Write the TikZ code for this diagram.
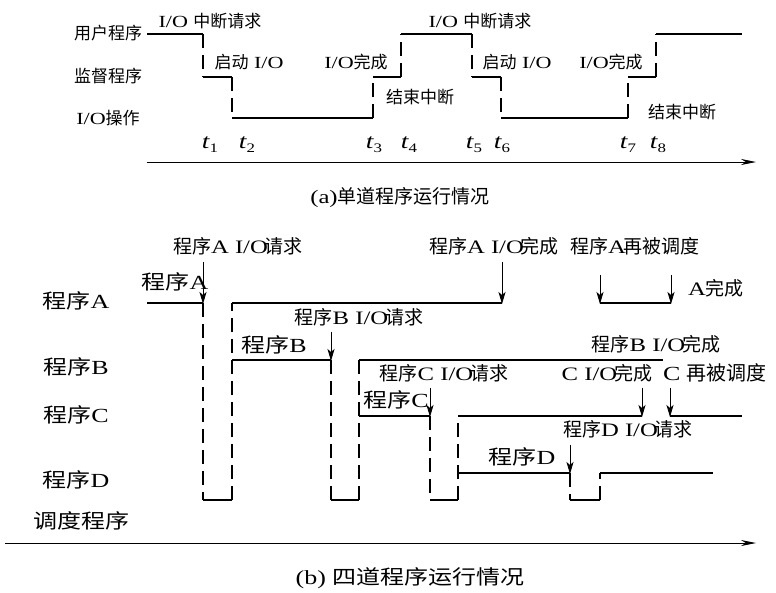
\documentclass[tikz,border=0pt]{standalone}
\usepackage{fontspec}
\usetikzlibrary{arrows.meta}
\newfontfamily\zh{Noto Sans CJK SC}
\newfontfamily\zhw[FakeStretch=1.2]{Noto Sans CJK SC}
\newfontfamily\la[FakeStretch=1.3]{Liberation Serif}
\newcommand\tv[1]{{\la\itshape t}\raisebox{-4pt}{\fontsize{13}{13}\selectfont\la #1}}
\tikzset{
  run/.style={line width=1.7pt},
  wait/.style={line width=1.7pt, dash pattern=on 14pt off 7pt},
  evt/.style={line width=0.9pt, -{Stealth[length=12pt,width=7pt,inset=3pt]}},
  axis/.style={line width=0.9pt, -{Stealth[length=15pt,width=6pt]}},
  lbA/.style={font=\fontsize{17}{20}\selectfont, inner sep=0pt},
  lbB/.style={font=\fontsize{19}{22}\selectfont, inner sep=0pt},
  lbR/.style={font=\fontsize{20}{23}\selectfont, inner sep=0pt},
  tl/.style={font=\fontsize{21}{24}\selectfont, inner sep=0pt},
}
\begin{document}
\begin{tikzpicture}[x=1pt,y=-1pt]
\useasboundingbox (0,0) rectangle (776,592);
% ---------------- (a) ----------------
\node[lbA] (ua) at (108,33) {\zh 用户程序};
\node[lbA] (sa) at (108,76) {\zh 监督程序};
\node[lbA] (ioa) at (108,118) {\la I/O\zh 操作};
\node[lbA] (r1) at (210,21) {\la I/O \zh 中断请求};
\node[lbA] (s1) at (249,62) {\zh 启动\la{} I/O};
\node[lbA] (c1) at (356,62) {\la I/O\zh 完成};
\node[lbA] (e1) at (420,97) {\zh 结束中断};
\node[lbA] (r2) at (480,21) {\la I/O \zh 中断请求};
\node[lbA] (s2) at (517,62) {\zh 启动\la{} I/O};
\node[lbA] (c2) at (611,62) {\la I/O\zh 完成};
\node[lbA] (e2) at (682,112) {\zh 结束中断};
\node[tl] (t1) at (210,145) {\tv{1}};
\node[tl] (t2) at (247,145) {\tv{2}};
\node[tl] (t3) at (374,145) {\tv{3}};
\node[tl] (t4) at (409,145) {\tv{4}};
\node[tl] (t5) at (474,145) {\tv{5}};
\node[tl] (t6) at (502,145) {\tv{6}};
\node[tl] (t7) at (628,145) {\tv{7}};
\node[tl] (t8) at (658,145) {\tv{8}};
\draw[run] (147,34) -- (203,34);
\draw[wait] (203,34) -- (203,77);
\draw[run] (203,77) -- (232,77);
\draw[wait] (232,77) -- (232,118);
\draw[run] (232,118) -- (373,118);
\draw[wait] (373,118) -- (373,77);
\draw[run] (373,77) -- (401,77);
\draw[wait] (401,77) -- (401,34);
\draw[run] (401,34) -- (472,34);
\draw[wait] (472,34) -- (472,77);
\draw[run] (472,77) -- (501,77);
\draw[wait] (501,77) -- (501,118);
\draw[run] (501,118) -- (628,118);
\draw[wait] (628,118) -- (628,77);
\draw[run] (628,77) -- (656,77);
\draw[wait] (656,77) -- (656,34);
\draw[run] (656,34) -- (742,34);
\coordinate (axa0) at (147,162);
\coordinate (axa1) at (756,162);
\draw[axis] (axa0) -- (axa1);
\node[lbB] (capa) at (400,197) {\la (a)\zh 单道程序运行情况};
% ---------------- (b) ----------------
\node[lbR] (pA) at (76,301) {\zhw 程序\la A};
\node[lbR] (pB) at (76,367) {\zhw 程序\la B};
\node[lbR] (pC) at (76,415) {\zhw 程序\la C};
\node[lbR] (pD) at (76,480) {\zhw 程序\la D};
\node[lbR] (pS) at (81,521) {\zhw 调度程序};
\node[lbB] (nAr) at (238,246) {\zh 程序\la A I/O\kern-3pt\zh 请求};
\node[lbR] (nA) at (175,282) {\zhw 程序\la A};
\node[lbB] (nBr) at (359,317) {\zh 程序\la B I/O\kern-3pt\zh 请求};
\node[lbR] (nB) at (274,345) {\zhw 程序\la B};
\node[lbB] (nAc) at (494,246) {\zh 程序\la A I/O\kern-3pt\zh 完成};
\node[lbB] (nAs) at (635,246) {\zh 程序\la A\kern-2pt\zh 再被调度};
\node[lbB] (nAd) at (716,288) {\la A\zh 完成};
\node[lbB] (nBc) at (656,344) {\zh 程序\la B I/O\kern-3pt\zh 完成};
\node[lbB] (nCr) at (444,373) {\zh 程序\la C I/O\kern-3pt\zh 请求};
\node[lbR] (nC) at (396,400) {\zhw 程序\la C};
\node[lbB] (nCc) at (607,373) {\la C I/O\kern-3pt\zh 完成};
\node[lbR,anchor=west] (nCs) at (663,373) {\la C\kern6pt\zh 再被调度};
\node[lbB] (nDr) at (628,429) {\zh 程序\la D I/O\kern-3pt\zh 请求};
\node[lbR] (nD) at (522,457) {\zhw 程序\la D};
% program A
\draw[run] (147,303) -- (203,303);
\draw[wait] (203,303) -- (203,500);
\draw[run] (203,500) -- (232,500);
\draw[wait] (232,500) -- (232,303);
\draw[run] (232,303) -- (502,303);
\draw[run] (600,303) -- (671,303);
% program B
\draw[run] (232,360) -- (331,360);
\draw[wait] (331,360) -- (331,500);
\draw[run] (331,500) -- (359,500);
\draw[wait] (359,500) -- (359,360);
\draw[run] (359,360) -- (663,360);
% program C
\draw[run] (359,416) -- (430,416);
\draw[wait] (430,416) -- (430,500);
\draw[run] (430,500) -- (458,500);
\draw[wait] (458,500) -- (458,416);
\draw[run] (458,416) -- (642,416);
\draw[run] (670,416) -- (742,416);
% program D
\draw[run] (458,473) -- (570,473);
\draw[wait] (570,473) -- (570,500);
\draw[run] (570,500) -- (600,500);
\draw[wait] (600,500) -- (600,473);
\draw[run] (600,473) -- (713,473);
% event arrows
\draw[evt] (203,262) -- (203,304);
\draw[evt] (331,332) -- (331,361);
\draw[evt] (502,262) -- (502,304);
\draw[evt] (600,275) -- (600,304);
\draw[evt] (671,275) -- (671,304);
\draw[evt] (430,388) -- (430,417);
\draw[evt] (642,388) -- (642,417);
\draw[evt] (670,388) -- (670,417);
\draw[evt] (570,445) -- (570,474);
\coordinate (axb0) at (5,543);
\coordinate (axb1) at (756,543);
\draw[axis] (axb0) -- (axb1);
\node[lbR] (capb) at (410,578) {\la (b) \zhw 四道程序运行情况};
\end{tikzpicture}
\end{document}
